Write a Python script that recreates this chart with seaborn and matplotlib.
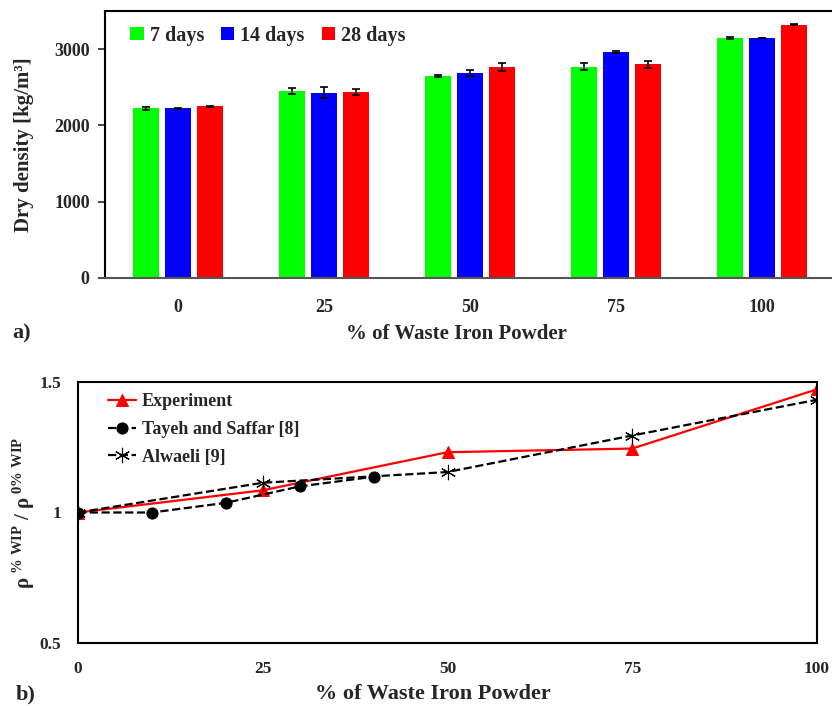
import numpy as np
import pandas as pd
import matplotlib
matplotlib.use("Agg")
import matplotlib.pyplot as plt
import seaborn as sns

# ---------------- data ----------------
wip_levels = ["0", "25", "50", "75", "100"]
ages = ["7 days", "14 days", "28 days"]
density_7 = [2222, 2452, 2652, 2770, 3143]
density_14 = [2222, 2428, 2688, 2965, 3143]
density_28 = [2250, 2440, 2770, 2800, 3320]
err_7 = [25, 40, 15, 45, 15]
err_14 = [6, 70, 35, 12, 0]
err_28 = [6, 42, 52, 44, 6]

exp_x = [0, 25, 50, 75, 100]
exp_y = [1.0, 1.085, 1.231, 1.245, 1.472]
tayeh_x = [0, 10, 20, 30, 40]
tayeh_y = [1.0, 1.0, 1.037, 1.10, 1.137]
alw_x = [0, 25, 50, 75, 100]
alw_y = [1.0, 1.114, 1.155, 1.295, 1.432]

colors = ["#00FF00", "#0000FF", "#FF0000"]

# ---------------- style ----------------
sns.set_style("white")
plt.rcParams["font.family"] = ["Liberation Serif", "DejaVu Serif"]
plt.rcParams["font.weight"] = "bold"
plt.rcParams["axes.labelweight"] = "bold"
plt.rcParams["mathtext.fontset"] = "custom"
plt.rcParams["mathtext.rm"] = "Liberation Serif:bold"
plt.rcParams["mathtext.it"] = "Liberation Serif:bold"
plt.rcParams["mathtext.bf"] = "Liberation Serif:bold"

fig = plt.figure(figsize=(8.32, 7.06), dpi=100)
ax1 = fig.add_axes([105 / 832, 1 - 278 / 706, 730 / 832, (278 - 11) / 706])
ax2 = fig.add_axes([78 / 832, 1 - 643 / 706, (817 - 78) / 832, (643 - 382) / 706])

# ---------------- top: bar chart ----------------
df = pd.DataFrame({
    "wip": wip_levels * 3,
    "age": np.repeat(ages, len(wip_levels)),
    "density": density_7 + density_14 + density_28,
})
sns.barplot(data=df, x="wip", y="density", hue="age", order=wip_levels,
            hue_order=ages, palette=colors, width=0.66, gap=0.18,
            errorbar=None, saturation=1, ax=ax1, edgecolor="none")
for cont, errs in zip(ax1.containers, [err_7, err_14, err_28]):
    xs = [p.get_x() + p.get_width() / 2 for p in cont.patches]
    hs = [p.get_height() for p in cont.patches]
    ax1.errorbar(xs, hs, yerr=errs, fmt="none", ecolor="black",
                 elinewidth=1.2, capsize=3, capthick=1.2)

ax1.set_xlim(-0.5, 4.5)
ax1.set_ylim(0, 3500)
ax1.set_yticks([0, 1000, 2000, 3000])
ax1.set_ylabel("Dry density [kg/m\u00b3]", fontsize=15, fontweight="bold")
ax1.yaxis.set_label_coords(-0.097, 0.5)
ax1.set_xlabel("% of Waste Iron Powder", fontsize=15, fontweight="bold")
ax1.xaxis.set_label_coords(0.482, -0.172)
ax1.tick_params(axis="y", direction="out", length=5, width=1.2, pad=6, labelsize=13, left=True)
ax1.tick_params(axis="x", length=0, pad=15, labelsize=13)
for s in ["left", "bottom", "top"]:
    ax1.spines[s].set_color("black")
    ax1.spines[s].set_linewidth(1.5)
ax1.spines["bottom"].set_color("#555555")
ax1.spines["right"].set_visible(False)
for lab in ax1.get_xticklabels() + ax1.get_yticklabels():
    lab.set_fontweight("bold")
ax1.legend(loc="upper left", bbox_to_anchor=(0.01, 1.013), ncol=3, frameon=False,
           handlelength=0.65, handleheight=0.65, handletextpad=0.3,
           columnspacing=0.85, prop={"size": 14.5, "weight": "bold"})

# ---------------- bottom: line chart ----------------
sns.lineplot(x=exp_x, y=exp_y, ax=ax2, color="red", marker="^", markersize=9,
             markeredgecolor="red", linewidth=1.6, label="Experiment")
sns.lineplot(x=tayeh_x, y=tayeh_y, ax=ax2, color="black", marker="o", markersize=8,
             markeredgecolor="black", linewidth=1.6, linestyle="--",
             label="Tayeh and Saffar [8]")
sns.lineplot(x=alw_x, y=alw_y, ax=ax2, color="black", marker=(6, 2, 0), markersize=11,
             markeredgecolor="black", markeredgewidth=0.8, linewidth=1.6,
             linestyle="--", label="Alwaeli [9]")

ax2.set_xlim(0, 100)
ax2.set_ylim(0.5, 1.5)
ax2.set_xticks([0, 25, 50, 75, 100])
ax2.set_yticks([0.5, 1, 1.5])
ax2.set_yticklabels(["0.5", "1", "1.5"])
ax2.set_xlabel("% of Waste Iron Powder", fontsize=16, fontweight="bold")
ax2.xaxis.set_label_coords(0.48, -0.158)
ax2.set_ylabel(r"$\mathrm{\rho}^{\ \%\ \mathrm{WIP}}$ / $\mathrm{\rho}^{\ 0\%\ \mathrm{WIP}}$",
               fontsize=15, fontweight="bold")
ax2.yaxis.set_label_coords(-0.056, 0.5)
ax2.tick_params(axis="x", direction="in", length=5, width=1.2, pad=13, labelsize=12.5)
ax2.tick_params(axis="y", length=0, pad=12, labelsize=12.5)
for s in ax2.spines.values():
    s.set_color("black")
    s.set_linewidth(1.5)
for lab in ax2.get_xticklabels() + ax2.get_yticklabels():
    lab.set_fontweight("bold")
ax2.legend(loc="upper left", bbox_to_anchor=(0.018, 1.02), frameon=False,
           handlelength=1.6, handletextpad=0.3, labelspacing=0.6,
           prop={"size": 13, "weight": "bold"})

fig.text(12 / 832, 1 - 333 / 706, "a)", fontsize=16, fontweight="bold", va="center")
fig.text(16 / 832, 1 - 694 / 706, "b)", fontsize=16, fontweight="bold", va="center")

fig.savefig("out.png", dpi=100)
